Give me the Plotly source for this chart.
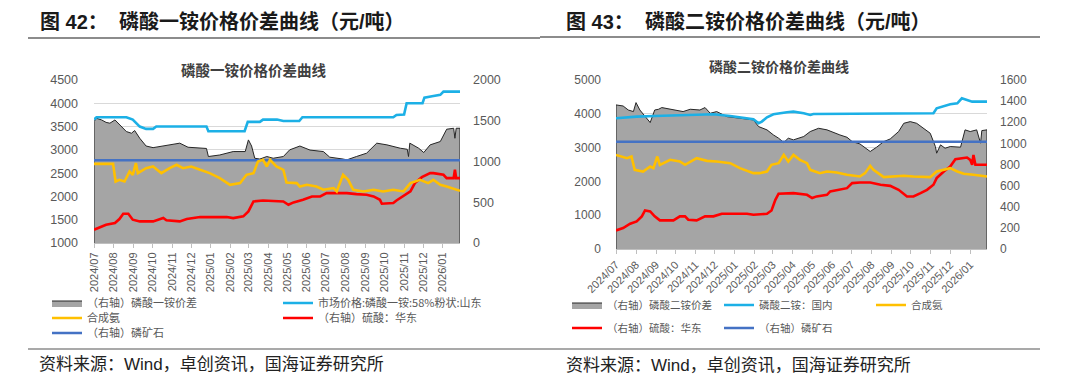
import plotly.graph_objects as go

W, H = 1080, 388

# ---------------- Chart 42 (磷酸一铵) ----------------
map_gap_dates = ["2024-07-01", "2024-07-01", "2024-07-05", "2024-07-13", "2024-07-20", "2024-07-26", "2024-08-03",
                 "2024-08-10", "2024-08-21", "2024-08-29", "2024-09-03", "2024-09-11", "2024-09-21", "2024-10-02",
                 "2024-10-10", "2024-10-23", "2024-11-13", "2024-11-26", "2024-12-15", "2024-12-25", "2024-12-28",
                 "2025-01-15", "2025-02-05", "2025-02-24", "2025-03-01", "2025-03-06", "2025-03-11", "2025-03-19",
                 "2025-03-30", "2025-04-09", "2025-04-25", "2025-05-05", "2025-05-21", "2025-06-06", "2025-06-27",
                 "2025-07-07", "2025-07-28", "2025-08-03", "2025-08-18", "2025-09-03", "2025-09-19", "2025-10-05",
                 "2025-10-26", "2025-11-06", "2025-11-08", "2025-11-10", "2025-11-24", "2025-12-02", "2025-12-12",
                 "2025-12-28", "2026-01-07", "2026-01-18", "2026-01-20", "2026-01-22", "2026-01-28", "2026-01-28"]
map_gap_vals = [0, 1490, 1530, 1510, 1480, 1470, 1510,
                1450, 1367, 1347, 1380, 1285, 1190, 1170,
                1180, 1200, 1225, 1175, 1163, 1160, 1061,
                1080, 1122, 1122, 1265, 1190, 1040, 1030,
                1061, 1040, 1061, 1143, 1190, 1140, 1122,
                1053, 1030, 1020, 1061, 1102, 1225, 1204,
                1163, 1150, 1061, 1225, 1163, 1110, 1204,
                1245, 1396, 1408, 1285, 1408, 1408, 0]

map_price_dates = ["2024-07-01", "2024-07-05", "2024-08-21", "2024-08-31", "2024-09-11", "2024-09-21", "2024-10-02",
                   "2024-10-07", "2024-12-25", "2024-12-28", "2025-02-23", "2025-02-28", "2025-03-19", "2025-03-24",
                   "2025-04-15", "2025-04-25", "2025-05-20", "2025-05-25", "2025-10-15", "2025-10-20", "2025-11-01",
                   "2025-11-05", "2025-11-30", "2025-12-03", "2025-12-15", "2025-12-28", "2026-01-02", "2026-01-28"]
map_price_vals = [3650, 3700, 3700, 3650, 3500, 3450, 3450,
                  3500, 3500, 3400, 3400, 3600, 3600, 3650,
                  3650, 3620, 3620, 3700, 3700, 3750, 3760,
                  4000, 4000, 4120, 4150, 4180, 4250, 4250]

map_nh3_dates = ["2024-07-01", "2024-07-31", "2024-08-04", "2024-08-10", "2024-08-18", "2024-08-26", "2024-08-31",
                 "2024-09-05", "2024-09-08", "2024-09-21", "2024-10-02", "2024-10-15", "2024-10-28", "2024-11-08",
                 "2024-11-18", "2024-12-01", "2024-12-15", "2024-12-30", "2025-01-15", "2025-01-31", "2025-02-16",
                 "2025-02-26", "2025-03-09", "2025-03-16", "2025-03-24", "2025-03-30", "2025-04-04", "2025-04-14",
                 "2025-04-25", "2025-04-30", "2025-05-16", "2025-05-21", "2025-06-01", "2025-06-16", "2025-06-27",
                 "2025-07-13", "2025-07-18", "2025-07-28", "2025-08-05", "2025-08-13", "2025-08-29", "2025-09-14",
                 "2025-09-29", "2025-10-15", "2025-10-31", "2025-11-11", "2025-11-26", "2025-12-09", "2025-12-17",
                 "2025-12-28", "2026-01-07", "2026-01-28"]
map_nh3_vals = [2700, 2700, 2320, 2357, 2320, 2536, 2464,
                2714, 2500, 2607, 2643, 2500, 2607, 2679,
                2607, 2643, 2571, 2500, 2393, 2250, 2286,
                2464, 2500, 2750, 2786, 2643, 2786, 2643,
                2571, 2300, 2286, 2214, 2250, 2214, 2143,
                2179, 2107, 2464, 2357, 2143, 2107, 2143,
                2107, 2143, 2107, 2286, 2357, 2286, 2357,
                2250, 2214, 2120]

map_h2so4_dates = ["2024-07-01", "2024-07-20", "2024-08-03", "2024-08-10", "2024-08-16", "2024-08-24", "2024-08-31",
                   "2024-09-11", "2024-10-02", "2024-10-12", "2024-10-18", "2024-10-23", "2024-11-13", "2024-11-24",
                   "2024-12-04", "2024-12-15", "2025-01-26", "2025-02-05", "2025-02-21", "2025-03-01", "2025-03-09",
                   "2025-03-24", "2025-04-25", "2025-05-03", "2025-05-11", "2025-05-26", "2025-06-09", "2025-06-22",
                   "2025-07-02", "2025-08-03", "2025-08-18", "2025-09-03", "2025-09-14", "2025-09-24", "2025-09-27",
                   "2025-10-15", "2025-10-20", "2025-10-31", "2025-11-11", "2025-11-18", "2025-11-29", "2025-12-12",
                   "2025-12-17", "2026-01-02", "2026-01-07", "2026-01-18", "2026-01-20", "2026-01-22", "2026-01-28"]
map_h2so4_vals = [163, 224, 245, 294, 359, 359, 286,
                  265, 265, 294, 306, 278, 265, 294,
                  302, 318, 318, 306, 327, 388, 510,
                  522, 510, 469, 498, 530, 571, 571,
                  612, 612, 600, 592, 571, 530, 482,
                  490, 522, 580, 633, 735, 808, 857,
                  857, 837, 796, 796, 898, 796, 796]

map_rock_dates = ["2024-07-01", "2026-01-28"]
map_rock_vals = [1015, 1015]

# ---------------- Chart 43 (磷酸二铵) ----------------
dap_gap_dates = ["2024-07-01", "2024-07-01", "2024-07-12", "2024-07-20", "2024-07-28", "2024-08-01", "2024-08-07",
                 "2024-08-18", "2024-08-23", "2024-08-30", "2024-09-05", "2024-09-10", "2024-09-28", "2024-10-13",
                 "2024-10-24", "2024-11-08", "2024-11-16", "2024-11-24", "2024-12-04", "2024-12-20", "2025-01-09",
                 "2025-01-30", "2025-02-07", "2025-02-20", "2025-03-02", "2025-03-10", "2025-03-18", "2025-03-25",
                 "2025-04-02", "2025-04-18", "2025-04-28", "2025-05-11", "2025-05-24", "2025-06-03", "2025-06-13",
                 "2025-06-24", "2025-07-02", "2025-07-14", "2025-07-30", "2025-08-09", "2025-08-20", "2025-08-30",
                 "2025-09-12", "2025-09-20", "2025-09-30", "2025-10-10", "2025-10-21", "2025-10-31", "2025-11-08",
                 "2025-11-10", "2025-11-16", "2025-11-23", "2025-12-01", "2025-12-17", "2025-12-24", "2026-01-01",
                 "2026-01-11", "2026-01-17", "2026-01-19", "2026-01-27", "2026-01-27"]
dap_gap_vals = [0, 1364, 1354, 1316, 1301, 1386, 1316,
                1228, 1197, 1316, 1323, 1339, 1316, 1301,
                1323, 1316, 1339, 1285, 1301, 1253, 1238,
                1222, 1159, 1128, 1080, 1049, 1008, 1049,
                1033, 1065, 1112, 1143, 1128, 1102, 1080,
                1058, 1017, 995, 923, 964, 1017, 1042,
                1112, 1190, 1206, 1190, 1143, 1096, 970,
                907, 986, 954, 970, 964, 1128, 1112,
                1128, 1002, 1121, 1128, 0]

dap_price_dates = ["2024-07-01", "2024-08-02", "2024-08-30", "2024-09-28", "2024-10-29", "2024-11-29", "2024-12-25",
                   "2025-01-09", "2025-01-30", "2025-02-07", "2025-02-12", "2025-02-20", "2025-03-02", "2025-03-23",
                   "2025-04-02", "2025-04-18", "2025-04-28", "2025-05-03", "2025-09-15", "2025-11-05", "2025-11-10",
                   "2025-11-23", "2025-12-01", "2025-12-12", "2025-12-19", "2025-12-27", "2026-01-04", "2026-01-27"]
dap_price_vals = [3868, 3917, 3937, 3947, 3966, 3986, 3937,
                  3898, 3839, 3720, 3770, 3898, 3986, 4045,
                  4065, 4016, 3966, 3996, 4016, 4016, 4163,
                  4232, 4281, 4311, 4459, 4410, 4360, 4360]

dap_nh3_dates = ["2024-07-01", "2024-07-18", "2024-07-25", "2024-07-30", "2024-08-12", "2024-08-23", "2024-08-28",
                 "2024-09-03", "2024-09-07", "2024-09-23", "2024-10-08", "2024-10-16", "2024-11-03", "2024-11-19",
                 "2024-12-04", "2024-12-25", "2025-01-09", "2025-01-30", "2025-02-09", "2025-02-20", "2025-02-27",
                 "2025-03-10", "2025-03-18", "2025-03-25", "2025-04-02", "2025-04-12", "2025-04-23", "2025-04-28",
                 "2025-05-13", "2025-05-24", "2025-06-08", "2025-06-24", "2025-07-14", "2025-07-22", "2025-07-30",
                 "2025-08-04", "2025-08-20", "2025-09-04", "2025-09-20", "2025-10-05", "2025-10-31", "2025-11-10",
                 "2025-11-21", "2025-12-01", "2025-12-12", "2025-12-22", "2026-01-06", "2026-01-27"]
dap_nh3_vals = [2785, 2687, 2736, 2342, 2293, 2441, 2392,
                2736, 2490, 2638, 2588, 2490, 2687, 2608,
                2588, 2539, 2392, 2244, 2244, 2293, 2490,
                2539, 2785, 2588, 2785, 2638, 2539, 2342,
                2244, 2293, 2264, 2195, 2146, 2244, 2461,
                2342, 2126, 2146, 2165, 2146, 2126, 2293,
                2342, 2392, 2293, 2224, 2195, 2146]

dap_h2so4_dates = ["2024-07-01", "2024-07-12", "2024-07-23", "2024-08-02", "2024-08-10", "2024-08-15", "2024-08-23",
                   "2024-08-30", "2024-09-07", "2024-09-28", "2024-10-08", "2024-10-16", "2024-10-21", "2024-11-03",
                   "2024-11-16", "2024-11-29", "2024-12-12", "2025-01-20", "2025-01-30", "2025-02-20", "2025-02-27",
                   "2025-03-05", "2025-03-10", "2025-04-02", "2025-04-23", "2025-05-01", "2025-05-08", "2025-05-24",
                   "2025-05-29", "2025-06-13", "2025-06-24", "2025-07-02", "2025-07-14", "2025-07-30", "2025-08-15",
                   "2025-08-30", "2025-09-12", "2025-09-25", "2025-10-05", "2025-10-16", "2025-10-26", "2025-11-05",
                   "2025-11-10", "2025-11-21", "2025-12-01", "2025-12-09", "2025-12-27", "2026-01-01", "2026-01-04",
                   "2026-01-06", "2026-01-09", "2026-01-27"]
dap_h2so4_vals = [176, 198, 239, 261, 309, 365, 356,
                  309, 271, 271, 309, 309, 277, 271,
                  309, 309, 334, 334, 324, 334, 365,
                  466, 523, 529, 513, 482, 498, 513,
                  545, 567, 576, 624, 630, 630, 608,
                  598, 560, 497, 497, 529, 560, 608,
                  671, 734, 781, 850, 866, 844, 797,
                  891, 797, 797]

dap_rock_dates = ["2024-07-01", "2026-01-27"]
dap_rock_vals = [1015, 1015]

month_ticks = ["2024-07-01", "2024-08-01", "2024-09-01", "2024-10-01", "2024-11-01", "2024-12-01",
               "2025-01-01", "2025-02-01", "2025-03-01", "2025-04-01", "2025-05-01", "2025-06-01",
               "2025-07-01", "2025-08-01", "2025-09-01", "2025-10-01", "2025-11-01", "2025-12-01",
               "2026-01-01"]
month_labels = [d[:7].replace("-", "/") for d in month_ticks]

# ---------------- styles ----------------
C_GRAY = "#A5A5A5"
C_CYAN = "#1CB0E6"
C_YEL = "#FFC000"
C_RED = "#FF0000"
C_BLUE = "#4472C4"
CJK = "Noto Sans CJK SC"
LAT = "Liberation Sans, Arial, Noto Sans CJK SC"


def px(x):
    return x / W


def py(y):
    return 1 - y / H


fig = go.Figure()

# Chart 42 traces
fig.add_trace(go.Scatter(x=map_gap_dates, y=map_gap_vals, mode="lines", fill="tozeroy", fillcolor=C_GRAY,
                         line=dict(color="#262626", width=1), name="（右轴）磷酸一铵价差",
                         xaxis="x", yaxis="y", legend="legend"))
fig.add_trace(go.Scatter(x=map_h2so4_dates, y=map_h2so4_vals, mode="lines", line=dict(color=C_RED, width=2.6),
                         name="（右轴）硫酸：华东", xaxis="x", yaxis="y", legend="legend4"))
fig.add_trace(go.Scatter(x=map_rock_dates, y=map_rock_vals, mode="lines", line=dict(color=C_BLUE, width=2.4),
                         name="（右轴）磷矿石", xaxis="x", yaxis="y", legend="legend5"))
fig.add_trace(go.Scatter(x=map_price_dates, y=map_price_vals, mode="lines", line=dict(color=C_CYAN, width=2.6),
                         name="市场价格:磷酸一铵:58%粉状:山东", xaxis="x", yaxis="y2", legend="legend2"))
fig.add_trace(go.Scatter(x=map_nh3_dates, y=map_nh3_vals, mode="lines", line=dict(color=C_YEL, width=2.6),
                         name="合成氨", xaxis="x", yaxis="y2", legend="legend3"))

# Chart 43 traces
fig.add_trace(go.Scatter(x=dap_gap_dates, y=dap_gap_vals, mode="lines", fill="tozeroy", fillcolor=C_GRAY,
                         line=dict(color="#262626", width=1), name="（右轴）磷酸二铵价差",
                         xaxis="x2", yaxis="y3", legend="legend6"))
fig.add_trace(go.Scatter(x=dap_h2so4_dates, y=dap_h2so4_vals, mode="lines", line=dict(color=C_RED, width=2.6),
                         name="（右轴）硫酸：华东", xaxis="x2", yaxis="y3", legend="legend9"))
fig.add_trace(go.Scatter(x=dap_rock_dates, y=dap_rock_vals, mode="lines", line=dict(color=C_BLUE, width=2.4),
                         name="（右轴）磷矿石", xaxis="x2", yaxis="y3", legend="legend10"))
fig.add_trace(go.Scatter(x=dap_price_dates, y=dap_price_vals, mode="lines", line=dict(color=C_CYAN, width=2.6),
                         name="磷酸二铵：国内", xaxis="x2", yaxis="y4", legend="legend7"))
fig.add_trace(go.Scatter(x=dap_nh3_dates, y=dap_nh3_vals, mode="lines", line=dict(color=C_YEL, width=2.6),
                         name="合成氨", xaxis="x2", yaxis="y4", legend="legend8"))

tickfont = dict(family=LAT, size=12.5, color="#595959")
xtickfont = dict(family=LAT, size=11, color="#595959")

common_x = dict(type="date", showgrid=False, showline=True, linecolor="#BFBFBF", linewidth=1,
                ticks="outside", ticklen=4, tickcolor="#BFBFBF", tickvals=month_ticks, ticktext=month_labels,
                tickfont=xtickfont, fixedrange=True, zeroline=False, automargin=False)

layout_axes = dict(
    xaxis=dict(common_x, domain=[px(94), px(460)], anchor="y", range=["2024-07-01", "2026-01-28"], tickangle=-90),
    yaxis=dict(domain=[py(243), py(80)], anchor="x", side="right", range=[0, 2000], dtick=500, tick0=0,
               showgrid=False, zeroline=False, showline=False, tickfont=tickfont, ticklabelstandoff=12,
               automargin=False, fixedrange=True),
    yaxis2=dict(overlaying="y", anchor="x", side="left", range=[1000, 4500], dtick=500, tick0=1000,
                showgrid=True, gridcolor="#D9D9D9", gridwidth=1, zeroline=False, showline=False,
                tickfont=tickfont, ticklabelstandoff=15, automargin=False, fixedrange=True),
    xaxis2=dict(common_x, domain=[px(616), px(987)], anchor="y3", range=["2024-07-01", "2026-01-27"], tickangle=-45),
    yaxis3=dict(domain=[py(249), py(80)], anchor="x2", side="right", range=[0, 1600], dtick=200, tick0=0,
                showgrid=False, zeroline=False, showline=False, tickfont=dict(tickfont, size=12),
                ticklabelstandoff=12, automargin=False, fixedrange=True),
    yaxis4=dict(overlaying="y3", anchor="x2", side="left", range=[0, 5000], dtick=1000, tick0=0,
                showgrid=True, gridcolor="#D9D9D9", gridwidth=1, zeroline=False, showline=False,
                tickfont=dict(tickfont, size=12), ticklabelstandoff=14, automargin=False, fixedrange=True),
)


def leg(x, y, size=11):
    return dict(x=px(x), y=py(y), xanchor="left", yanchor="middle", orientation="h",
                bgcolor="rgba(0,0,0,0)", borderwidth=0, itemwidth=30, tracegroupgap=0,
                font=dict(family=CJK, size=size, color="#595959"))


legends = dict(
    legend=leg(47, 303), legend2=leg(278, 303), legend3=leg(47, 318), legend4=leg(278, 318), legend5=leg(47, 333),
    legend6=leg(567, 305, 10.5), legend7=leg(719, 305, 10.5), legend8=leg(871, 305, 10.5),
    legend9=leg(567, 328, 10.5), legend10=leg(719, 328, 10.5),
)

annotations = [
    dict(text="<b>图 42：  磷酸一铵价格价差曲线（元/吨）</b>", x=px(38), y=py(22), xanchor="left", yanchor="middle",
         font=dict(family=LAT, size=20, color="#1a1a1a")),
    dict(text="<b>图 43：  磷酸二铵价格价差曲线（元/吨）</b>", x=px(564), y=py(22), xanchor="left", yanchor="middle",
         font=dict(family=LAT, size=20, color="#1a1a1a")),
    dict(text="<b>磷酸一铵价格价差曲线</b>", x=px(253), y=py(69), xanchor="center", yanchor="middle",
         font=dict(family=CJK, size=14.5, color="#404040")),
    dict(text="<b>磷酸二铵价格价差曲线</b>", x=px(779), y=py(66), xanchor="center", yanchor="middle",
         font=dict(family=CJK, size=14, color="#404040")),
    dict(text="资料来源：Wind，卓创资讯，国海证券研究所", x=px(37), y=py(364), xanchor="left", yanchor="middle",
         font=dict(family=LAT, size=17, color="#222222")),
    dict(text="资料来源：Wind，卓创资讯，国海证券研究所", x=px(564), y=py(365), xanchor="left", yanchor="middle",
         font=dict(family=LAT, size=17, color="#222222")),
]
for a in annotations:
    a.update(xref="paper", yref="paper", showarrow=False)

shapes = [
    dict(type="line", xref="paper", yref="paper", x0=px(28), x1=px(540), y0=py(38), y1=py(38),
         line=dict(color="#8C8C8C", width=2)),
    dict(type="line", xref="paper", yref="paper", x0=px(540), x1=px(1040), y0=py(37), y1=py(37),
         line=dict(color="#8C8C8C", width=2)),
    dict(type="line", xref="paper", yref="paper", x0=px(28), x1=px(540), y0=py(349), y1=py(349),
         line=dict(color="#8C8C8C", width=1.5)),
    dict(type="line", xref="paper", yref="paper", x0=px(540), x1=px(1040), y0=py(349), y1=py(349),
         line=dict(color="#8C8C8C", width=1.5)),
]

fig.update_layout(
    width=W, height=H, margin=dict(l=0, r=0, t=0, b=0, autoexpand=False),
    paper_bgcolor="white", plot_bgcolor="white", hovermode=False,
    showlegend=True, annotations=annotations, shapes=shapes,
    **layout_axes, **legends,
)

fig.write_html("out.html", config={"displayModeBar": False, "staticPlot": True},
               post_script="document.body.style.margin='0px';document.body.style.overflow='hidden';")
